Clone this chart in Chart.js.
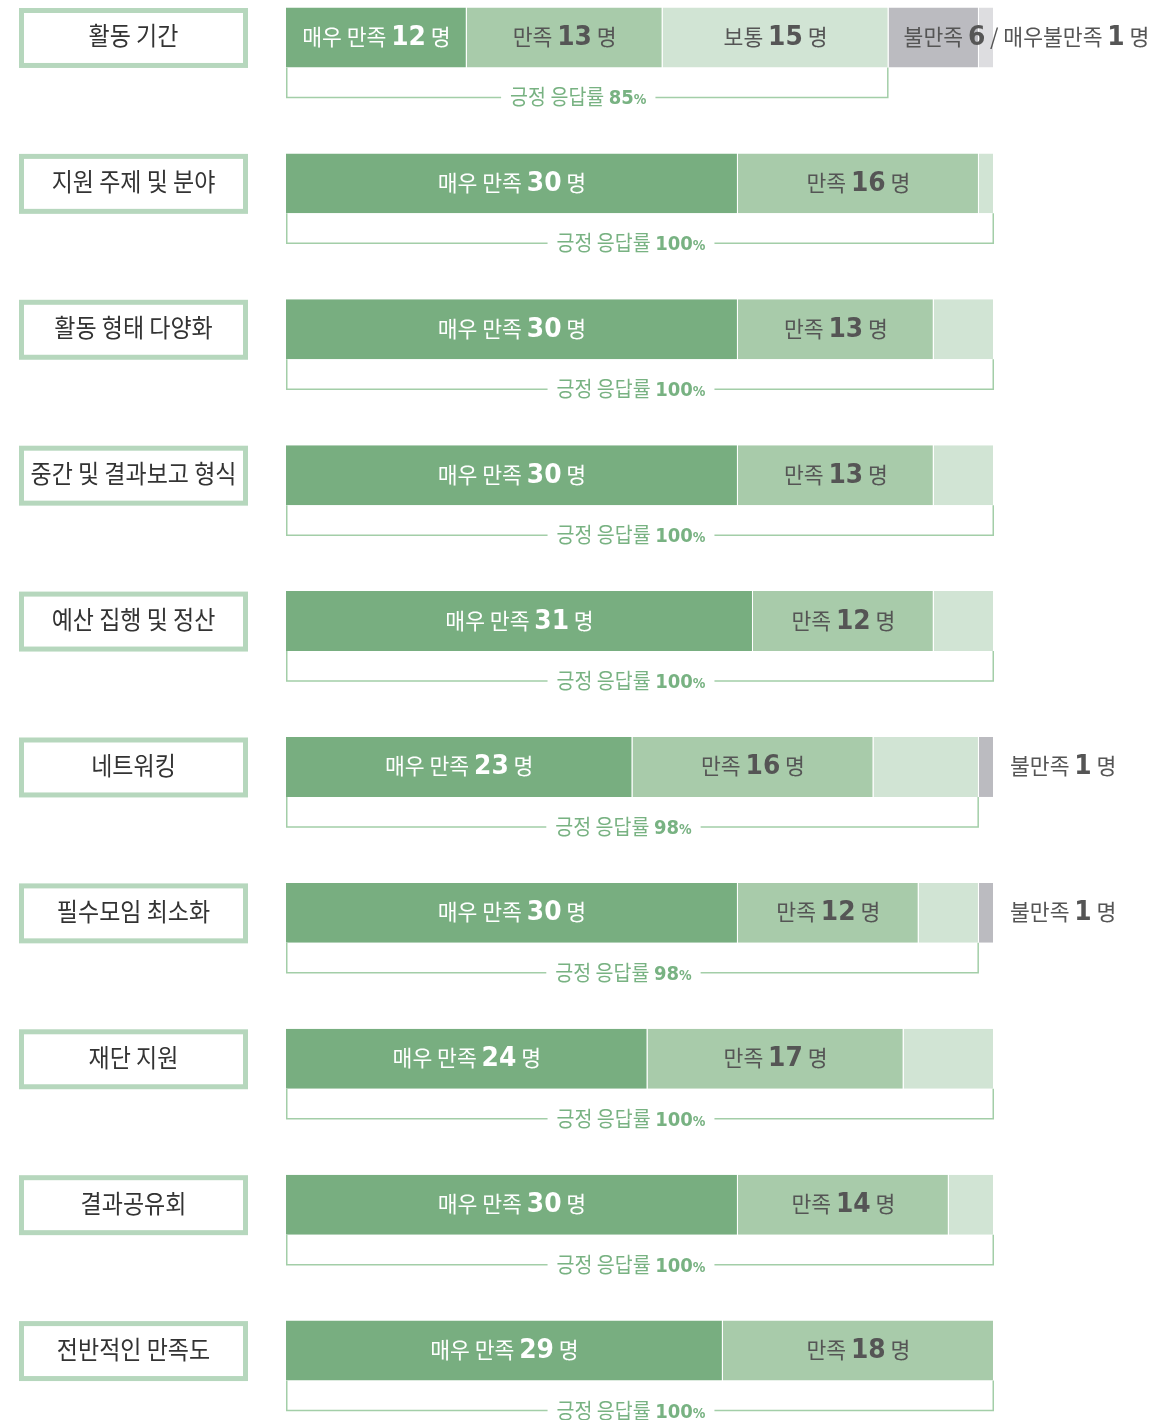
<!DOCTYPE html>
<html lang="ko">
<head>
<meta charset="utf-8">
<title>만족도 조사 결과</title>
<script src="https://cdn.jsdelivr.net/npm/chart.js@4.4.1/dist/chart.umd.min.js"></script>
<style>
  html, body { margin: 0; padding: 0; background: #fff; overflow: hidden; }
  #wrap { position: relative; width: 1161px; height: 1460px; }
</style>
</head>
<body>
<div id="wrap"><canvas id="satisfactionChart"></canvas></div>
<script>
const categories = ["활동 기간", "지원 주제 및 분야", "활동 형태 다양화", "중간 및 결과보고 형식", "예산 집행 및 정산", "네트워킹", "필수모임 최소화", "재단 지원", "결과공유회", "전반적인 만족도"];
const levels = ["매우 만족", "만족", "보통", "불만족", "매우불만족"];
const veryGood = [12, 30, 30, 30, 31, 23, 30, 24, 30, 29];
const good = [13, 16, 13, 13, 12, 16, 12, 17, 14, 18];
const neutral = [15, 1, 4, 4, 4, 7, 4, 6, 3, 0];
const bad = [6, 0, 0, 0, 0, 1, 1, 0, 0, 0];
const veryBad = [1, 0, 0, 0, 0, 0, 0, 0, 0, 0];
const positiveRates = [85, 100, 100, 100, 100, 98, 98, 100, 100, 100];
const respondents = 47;

const series = [veryGood, good, neutral, bad, veryBad];

const COLORS = {
  segments: ["#78ae80", "#a8cbaa", "#d1e4d4", "#bbbbc0", "#dddde0"],
  box: "#b6d7bd",
  bracket: "#a3cea8",
  bracketText: "#78b282",
  darkText: "#555555",
  boxText: "#333333",
};

const KR = '"Noto Sans CJK KR", "Noto Sans", sans-serif';
const NUM = '"DejaVu Sans", sans-serif';

function txt(t, color, size = 22, sx = 0.98) {
  return { t, font: `400 ${size}px ${KR}`, sx, color };
}

function num(t, color, size = 26, sx = 0.96) {
  return { t: String(t), font: `700 ${size}px ${NUM}`, sx, color };
}

// draws a row of mixed-font pieces on one baseline
function drawParts(ctx, parts, x, y, align) {
  const widths = parts.map((p) => {
    ctx.font = p.font;
    return ctx.measureText(p.t).width * p.sx;
  });
  const total = widths.reduce((s, w) => s + w, 0);
  let cx = align === "center" ? x - total / 2 : align === "right" ? x - total : x;
  const start = cx;
  ctx.textBaseline = "alphabetic";
  ctx.textAlign = "left";
  parts.forEach((p, k) => {
    ctx.save();
    ctx.font = p.font;
    ctx.fillStyle = p.color;
    ctx.translate(cx, y);
    ctx.scale(p.sx, 1);
    ctx.fillText(p.t, 0, 0);
    ctx.restore();
    cx += widths[k];
  });
  return { start, end: start + total };
}

function countParts(label, n, color) {
  return [txt(label + " ", color), num(n, color), txt(" 명", color)];
}

function measureParts(ctx, parts) {
  return parts.reduce((s, p) => {
    ctx.font = p.font;
    return s + ctx.measureText(p.t).width * p.sx;
  }, 0);
}

const annotatePlugin = {
  id: "annotate",
  afterDatasetsDraw(chart) {
    const { ctx } = chart;
    const xs = chart.scales.x;
    const bars = chart.getDatasetMeta(0).data;

    categories.forEach((name, i) => {
      const bar = bars[i];
      const top = bar.y - bar.height / 2;
      const bottom = bar.y + bar.height / 2;
      const mid = bar.y;
      const base = mid + 7.5;

      // category box on the left
      ctx.save();
      ctx.strokeStyle = COLORS.box;
      ctx.lineWidth = 5;
      ctx.strokeRect(21.5, top + 3, 224, bar.height - 5);
      ctx.restore();
      drawParts(ctx, [txt(name, COLORS.boxText, 25, 0.92)], 133.5, mid + 8, "center");

      // segment labels
      let cum = 0;
      const edges = series.map((s) => {
        const from = xs.getPixelForValue(cum);
        cum += s[i];
        return { from, to: xs.getPixelForValue(cum), v: s[i] };
      });

      const [sVG, sG, sN, sB] = edges;
      drawParts(ctx, countParts(levels[0], sVG.v, "#ffffff"), (sVG.from + sVG.to) / 2, base, "center");
      if (sG.v > 0) {
        drawParts(ctx, countParts(levels[1], sG.v, COLORS.darkText), (sG.from + sG.to) / 2, base, "center");
      }
      if (sN.to - sN.from >= 150) {
        drawParts(ctx, countParts(levels[2], sN.v, COLORS.darkText), (sN.from + sN.to) / 2, base, "center");
      }
      if (sB.v > 0) {
        if (sB.to - sB.from >= 60) {
          const parts = [txt(levels[3] + " ", COLORS.darkText), num(sB.v, COLORS.darkText)];
          if (veryBad[i] > 0) {
            parts.push(txt(" / " + levels[4] + " ", COLORS.darkText), num(veryBad[i], COLORS.darkText));
          }
          parts.push(txt(" 명", COLORS.darkText));
          drawParts(ctx, parts, sB.from + 15, base, "left");
        } else {
          drawParts(ctx, countParts(levels[3], sB.v, COLORS.darkText), xs.right + 16, base, "left");
        }
      }

      // positive-response bracket
      const left = xs.getPixelForValue(0);
      const right = xs.getPixelForValue(veryGood[i] + good[i] + neutral[i]);
      const lineY = bottom + 30;
      const label = [
        txt("긍정 응답률 ", COLORS.bracketText, 21, 0.93),
        num(positiveRates[i], COLORS.bracketText, 19, 0.95),
        { t: "%", font: `700 14px ${NUM}`, sx: 0.9, color: COLORS.bracketText },
      ];
      const w = measureParts(ctx, label);
      const cx = (left + right) / 2 - 9;
      const tStart = cx - w / 2;
      const tEnd = cx + w / 2;

      ctx.save();
      ctx.strokeStyle = COLORS.bracket;
      ctx.lineWidth = 1.5;
      ctx.beginPath();
      ctx.moveTo(left + 0.75, bottom);
      ctx.lineTo(left + 0.75, lineY);
      ctx.lineTo(tStart - 9, lineY);
      ctx.moveTo(tEnd + 9, lineY);
      ctx.lineTo(right - 0.75, lineY);
      ctx.lineTo(right - 0.75, bottom);
      ctx.stroke();
      ctx.restore();
      drawParts(ctx, label, cx, lineY + 7, "center");
    });
  },
};

const datasets = series.map((data, k) => ({
  label: levels[k],
  data,
  stack: "answers",
  backgroundColor: COLORS.segments[k],
  borderColor: "#ffffff",
  borderWidth: { top: 0, bottom: 0, left: 0, right: 1 },
  borderSkipped: false,
}));
// empty second stack keeps the room under each bar for the bracket
datasets.push({ label: "", data: categories.map(() => null), stack: "spacer" });

new Chart(document.getElementById("satisfactionChart"), {
  type: "bar",
  data: { labels: categories, datasets },
  options: {
    indexAxis: "y",
    responsive: true,
    maintainAspectRatio: false,
    animation: false,
    events: [],
    categoryPercentage: 1,
    barPercentage: 60 / 73,
    layout: { padding: { left: 286, right: 167, top: 1, bottom: 0 } },
    plugins: { legend: { display: false }, tooltip: { enabled: false } },
    scales: {
      x: { stacked: true, min: 0, max: respondents, display: false },
      y: { stacked: true, display: false },
    },
  },
  plugins: [annotatePlugin],
});
</script>
</body>
</html>
